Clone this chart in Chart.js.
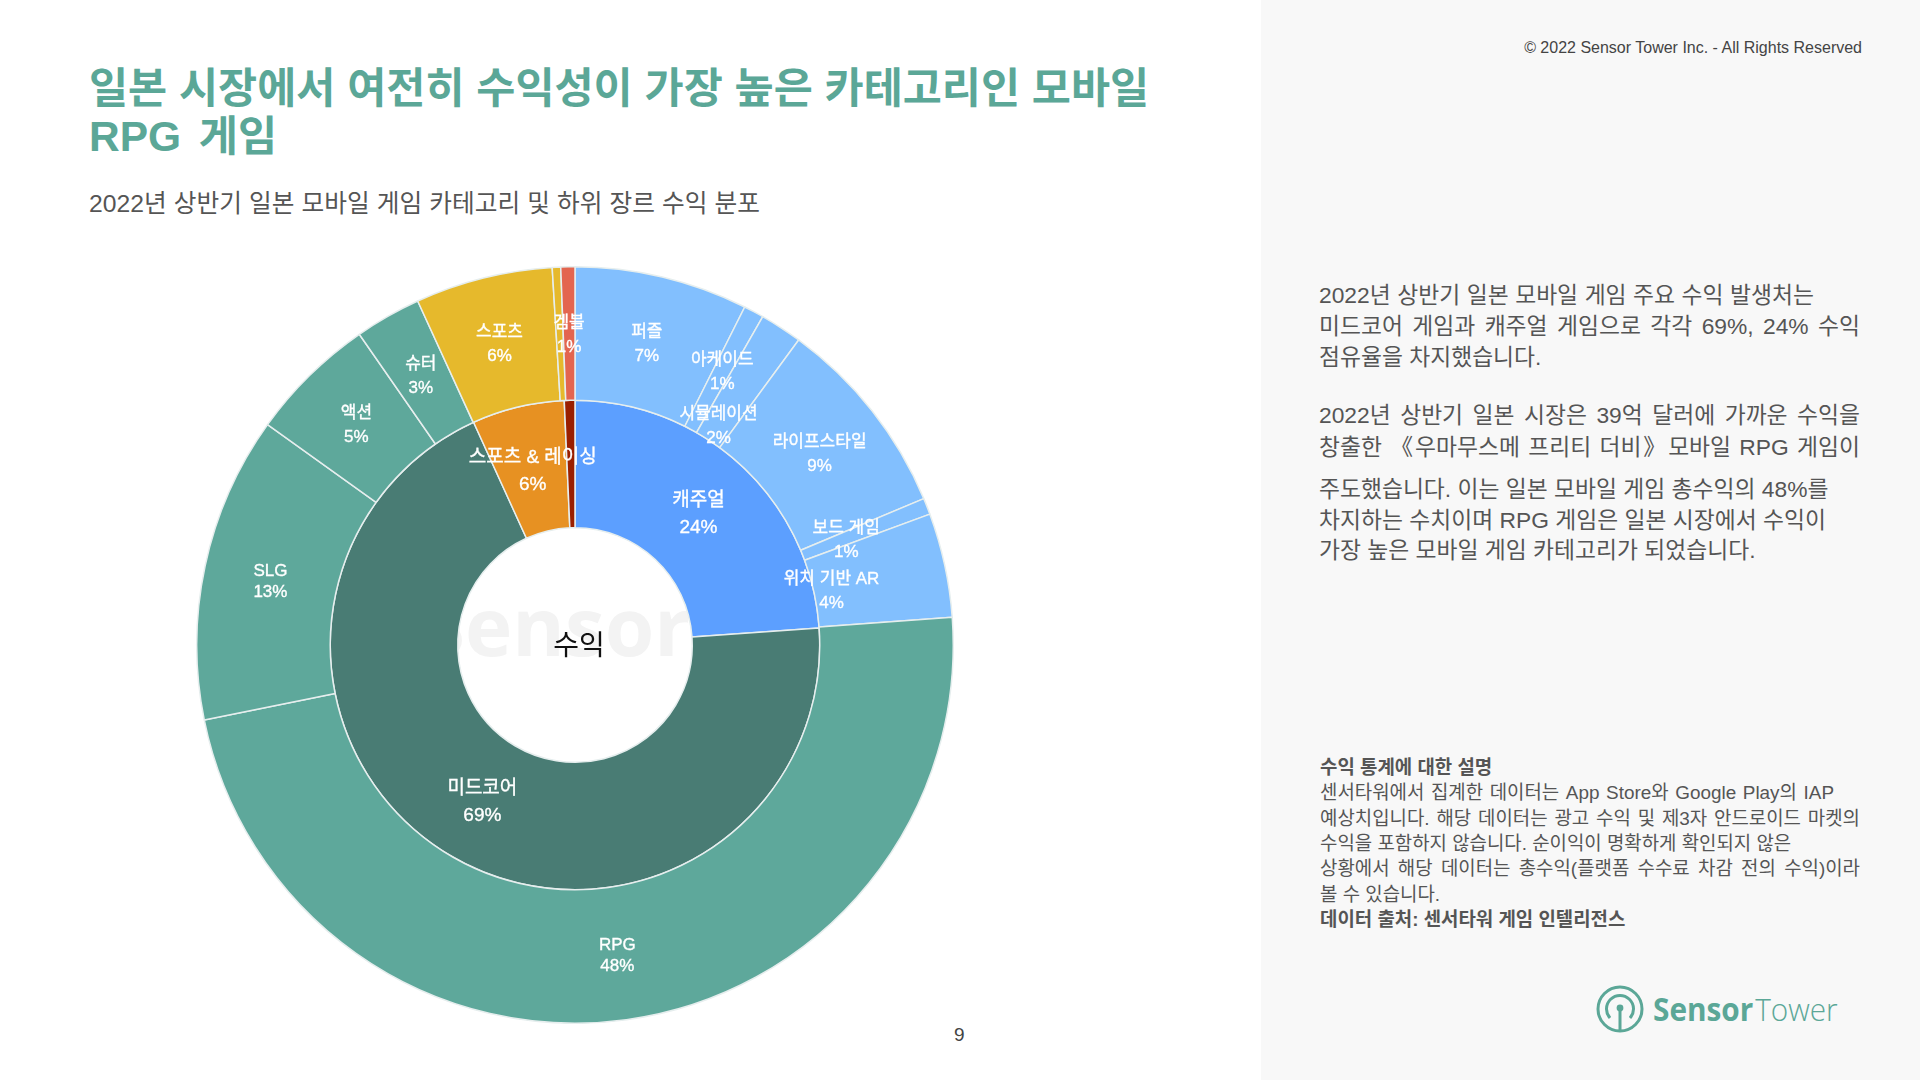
<!DOCTYPE html>
<html lang="ko">
<head>
<meta charset="utf-8">
<title>일본 모바일 게임 수익 분포</title>
<script src="https://cdn.jsdelivr.net/npm/chart.js@4"></script>
<style>
  html, body { margin: 0; padding: 0; background: #fff; }
  body { width: 1920px; height: 1080px; position: relative; overflow: hidden;
         font-family: "Liberation Sans", "Noto Sans CJK KR", sans-serif; color: #555; }
  .side { position: absolute; left: 1261px; top: 0; width: 659px; height: 1080px; background: #f8f8f8; }
  .ln { position: absolute; white-space: nowrap; text-align: justify; text-align-last: justify; line-height: 30px; }
  .title { font-size: 42.5px; font-weight: 700; color: #5ba797; line-height: 50px; }
  .sub { font-size: 24.7px; }
  .body { left: 1319px; font-size: 22.8px; }
  .note { left: 1320px; font-size: 18.9px; }
  .note.b { font-weight: 700; }
  .copy { position: absolute; right: 58px; top: 38px; font-size: 16px; line-height: 20px; color: #444; }
  .page { position: absolute; left: 954px; top: 1024px; font-size: 19px; line-height: 22px; color: #444; }
  .mark { position: absolute; left: 421px; top: 570px; font: 700 80px/110px "Open Sans", sans-serif; color: #f3f3f3; }
  .center { position: absolute; left: 529px; top: 626px; width: 100px; text-align: center; font-size: 28px; line-height: 40px; color: #111; z-index: 2; }
  #chart { position: absolute; left: 195px; top: 265px; z-index: 1; }
  .logo { position: absolute; left: 1595px; top: 984px; }
  .logotext { position: absolute; left: 1653px; top: 988px; font: 32px/42px "Open Sans", sans-serif; color: #5ba797;
              transform-origin: left center; transform: scaleX(0.93); white-space: nowrap; }
  .logotext b { font-weight: 700; }
  .logotext span { font-weight: 300; margin-left: 2px; }
</style>
</head>
<body>
<div class="side"></div>

<div class="ln title" style="left:89px;top:64px;width:1060px">일본 시장에서 여전히 수익성이 가장 높은 카테고리인 모바일</div>
<div class="ln title" style="left:89px;top:112px;width:188px">RPG 게임</div>
<div class="ln sub" style="left:89px;top:189px;width:671px">2022년 상반기 일본 모바일 게임 카테고리 및 하위 장르 수익 분포</div>

<div class="mark">Sensor</div>
<div class="center">수익</div>
<canvas id="chart" width="760" height="760"></canvas>

<div class="page">9</div>
<div class="copy">© 2022 Sensor Tower Inc. - All Rights Reserved</div>

<div class="ln body" style="top:280px;width:495px">2022년 상반기 일본 모바일 게임 주요 수익 발생처는</div>
<div class="ln body" style="top:311px;width:541px">미드코어 게임과 캐주얼 게임으로 각각 69%, 24% 수익</div>
<div class="ln body" style="top:342px;width:219px">점유율을 차지했습니다.</div>
<div class="ln body" style="top:400px;width:541px">2022년 상반기 일본 시장은 39억 달러에 가까운 수익을</div>
<div class="ln body" style="top:432px;width:541px">창출한  《우마무스메 프리티 더비》모바일 RPG 게임이</div>
<div class="ln body" style="top:474px;width:509px">주도했습니다. 이는 일본 모바일 게임 총수익의 48%를</div>
<div class="ln body" style="top:505px;width:507px">차지하는 수치이며 RPG 게임은 일본 시장에서 수익이</div>
<div class="ln body" style="top:535px;width:433px">가장 높은 모바일 게임 카테고리가 되었습니다.</div>

<div class="ln note b" style="top:753px;width:170px">수익 통계에 대한 설명</div>
<div class="ln note" style="top:778px;width:514px">센서타워에서 집계한 데이터는 App Store와 Google Play의 IAP</div>
<div class="ln note" style="top:804px;width:540px">예상치입니다. 해당 데이터는 광고 수익 및 제3자 안드로이드 마켓의</div>
<div class="ln note" style="top:829px;width:470px">수익을 포함하지 않습니다. 순이익이 명확하게 확인되지 않은</div>
<div class="ln note" style="top:854px;width:540px">상황에서 해당 데이터는 총수익(플랫폼 수수료 차감 전의 수익)이라</div>
<div class="ln note" style="top:880px;width:119px">볼 수 있습니다.</div>
<div class="ln note b" style="top:905px;width:304px">데이터 출처: 센서타워 게임 인텔리전스</div>

<svg class="logo" width="50" height="50" viewBox="0 0 50 50" fill="none" stroke="#5ba797">
  <circle cx="25" cy="25" r="22" stroke-width="3"/>
  <path d="M15 34 A13.5 13.5 0 1 1 35 34" stroke-width="3"/>
  <circle cx="25" cy="24" r="3.4" fill="#5ba797" stroke="none"/>
  <path d="M25 26 V46" stroke-width="3"/>
</svg>
<div class="logotext"><b>Sensor</b><span>Tower</span></div>

<script>
// outer ring, clockwise from 12 o'clock
const genreLabels = ['퍼즐', '아케이드', '시뮬레이션', '라이프스타일', '보드 게임', '위치 기반 AR',
  'RPG', 'SLG', '액션', '슈터', '스포츠', '', '겜블'];
const genreValues = [7.4, 0.86, 1.8, 8.6, 0.7, 4.45, 47.95, 13.06, 5.44, 2.83, 5.86, 0.36, 0.6];

// inner ring
const categoryLabels = ['캐주얼', '미드코어', '스포츠 & 레이싱', ''];
const categoryValues = [23.9, 69.3, 6.1, 0.7];

const genreColors = ['#82bffe', '#82bffe', '#82bffe', '#82bffe', '#82bffe', '#82bffe',
  '#5ea89b', '#5ea89b', '#5ea89b', '#5ea89b', '#e6b92c', '#e6b92c', '#e3654f'];
const categoryColors = ['#5c9fff', '#497c74', '#e79122', '#9a1f00'];

// crowded labels sit nearer the centre than the middle of their slice
const labelInset = { '시뮬레이션': 48, '보드 게임': 20, '위치 기반 AR': 49 };

const sliceLabels = {
  id: 'sliceLabels',
  afterDatasetsDraw(chart) {
    const ctx = chart.ctx;
    ctx.save();
    ctx.fillStyle = '#fff';
    ctx.strokeStyle = '#fff';
    ctx.lineWidth = 0.35;
    ctx.textAlign = 'center';
    ctx.textBaseline = 'middle';
    chart.data.datasets.forEach((ds, d) => {
      const size = d === 0 ? 17 : 19;
      ctx.font = size + 'px "Liberation Sans", "Noto Sans CJK KR", sans-serif';
      chart.getDatasetMeta(d).data.forEach((arc, i) => {
        const name = ds.labels[i];
        if (!name) return;
        // latin names were set a little tighter in the original
        const lineGap = d === 1 ? 27 : (/^[A-Z]+$/.test(name) ? 21 : 24);
        const p = arc.getCenterPoint();
        const inset = labelInset[name] || 0;
        const dx = p.x - arc.x, dy = p.y - arc.y;
        const r = Math.hypot(dx, dy);
        const x = arc.x + dx * (r - inset) / r;
        const y = arc.y + dy * (r - inset) / r + 2;
        const pct = Math.round(ds.data[i]) + '%';
        ctx.fillText(name, x, y - lineGap / 2);
        ctx.strokeText(name, x, y - lineGap / 2);
        ctx.fillText(pct, x, y + lineGap / 2);
        ctx.strokeText(pct, x, y + lineGap / 2);
      });
    });
    ctx.restore();
  }
};

new Chart(document.getElementById('chart').getContext('2d'), {
  type: 'doughnut',
  data: {
    datasets: [
      { labels: genreLabels, data: genreValues, backgroundColor: genreColors, weight: 133 },
      { labels: categoryLabels, data: categoryValues, backgroundColor: categoryColors, weight: 127 }
    ]
  },
  options: {
    responsive: false,
    animation: false,
    cutout: '31%',
    borderColor: '#e6eeee',
    borderWidth: 1.5,
    layout: { padding: 1 },
    plugins: { legend: { display: false }, tooltip: { enabled: false } }
  },
  plugins: [sliceLabels]
});
</script>
</body>
</html>
